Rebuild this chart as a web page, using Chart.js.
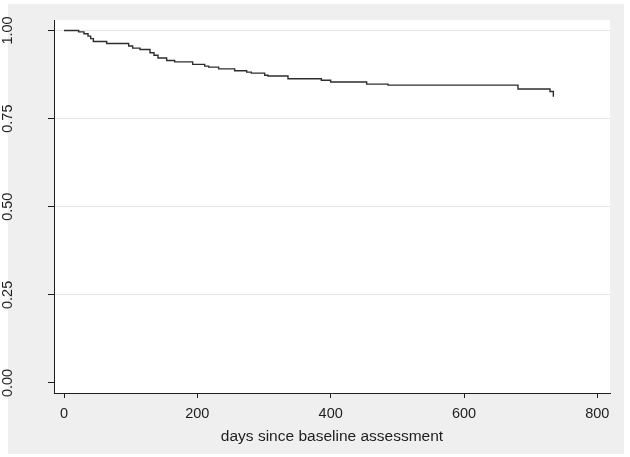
<!DOCTYPE html>
<html>
<head>
<meta charset="utf-8">
<script src="https://cdn.jsdelivr.net/npm/chart.js@4"></script>
<style>
  html, body { margin: 0; padding: 0; background: #fff; }
  canvas { display: block; }
</style>
</head>
<body>
<canvas id="km" width="630" height="457"></canvas>
<script>
// Kaplan-Meier survival estimate
const days = [0, 22, 30, 36, 40, 44, 64, 97, 103, 114, 129, 135, 141, 154, 166,
  193, 211, 217, 232, 256, 274, 281, 301, 306, 336, 386, 400, 454, 486, 681, 729, 734];
const survival = [1.000, 0.996, 0.991, 0.984, 0.977, 0.969, 0.963, 0.956, 0.950, 0.946, 0.937, 0.930,
  0.922, 0.915, 0.911, 0.904, 0.899, 0.896, 0.891, 0.886, 0.882, 0.879, 0.873, 0.871, 0.863,
  0.859, 0.854, 0.848, 0.845, 0.834, 0.827, 0.812];

const xTicks = [0, 200, 400, 600, 800];
const yTicks = [0, 0.25, 0.5, 0.75, 1];
const xTitle = 'days since baseline assessment';

const font = '"Liberation Sans", Arial, Helvetica, sans-serif';
const ink = '#1e1e1e';

const points = days.map((d, i) => ({ x: d, y: survival[i] }));

// gray graph region + white plot region, like Stata
const backdrop = {
  id: 'backdrop',
  beforeDraw(chart) {
    const { ctx, chartArea: a } = chart;
    ctx.save();
    ctx.fillStyle = '#efefef';
    ctx.fillRect(8, 4, 616, 450);
    ctx.fillStyle = '#ffffff';
    ctx.fillRect(a.left, a.top, a.right - a.left, a.bottom - a.top);
    ctx.restore();
  }
};

new Chart(document.getElementById('km'), {
  type: 'line',
  data: {
    datasets: [{
      data: points,
      stepped: true,
      borderColor: '#2e2e2e',
      borderWidth: 1.4,
      pointRadius: 0,
      fill: false
    }]
  },
  options: {
    responsive: false,
    animation: false,
    layout: { padding: { top: 20, right: 20, left: 0, bottom: 0 } },
    plugins: { legend: { display: false }, tooltip: { enabled: false } },
    scales: {
      x: {
        type: 'linear',
        min: -15,
        max: 819,
        afterBuildTicks: s => { s.ticks = xTicks.map(v => ({ value: v })); },
        afterFit: s => { s.height = 64; s.paddingLeft = 0; s.paddingRight = 0; },
        ticks: {
          font: { family: font, size: 14.5 },
          color: ink,
          padding: 7,
          maxRotation: 0,
          callback: v => String(v)
        },
        grid: { drawOnChartArea: false, drawTicks: true, tickLength: 5, tickColor: ink },
        border: { display: true, color: ink, width: 1 },
        title: {
          display: true,
          text: xTitle,
          font: { family: font, size: 15.5 },
          color: ink,
          padding: { top: 0, bottom: 11 }
        }
      },
      y: {
        type: 'linear',
        min: -0.0284,
        max: 1.0298,
        afterBuildTicks: s => { s.ticks = yTicks.map(v => ({ value: v })); },
        afterFit: s => { s.width = 54; s.paddingTop = 0; s.paddingBottom = 0; },
        ticks: {
          font: { family: font, size: 14.5 },
          color: ink,
          minRotation: 90,
          maxRotation: 90,
          crossAlign: 'center',
          padding: 26,
          callback: v => Number(v).toFixed(2)
        },
        grid: {
          color: c => (c.tick && c.tick.value === 0 ? 'rgba(0,0,0,0)' : '#e6e6e6'),
          lineWidth: 1,
          drawTicks: true,
          tickLength: 6,
          tickColor: ink
        },
        border: { display: true, color: ink, width: 1 }
      }
    }
  },
  plugins: [backdrop]
});
</script>
</body>
</html>
